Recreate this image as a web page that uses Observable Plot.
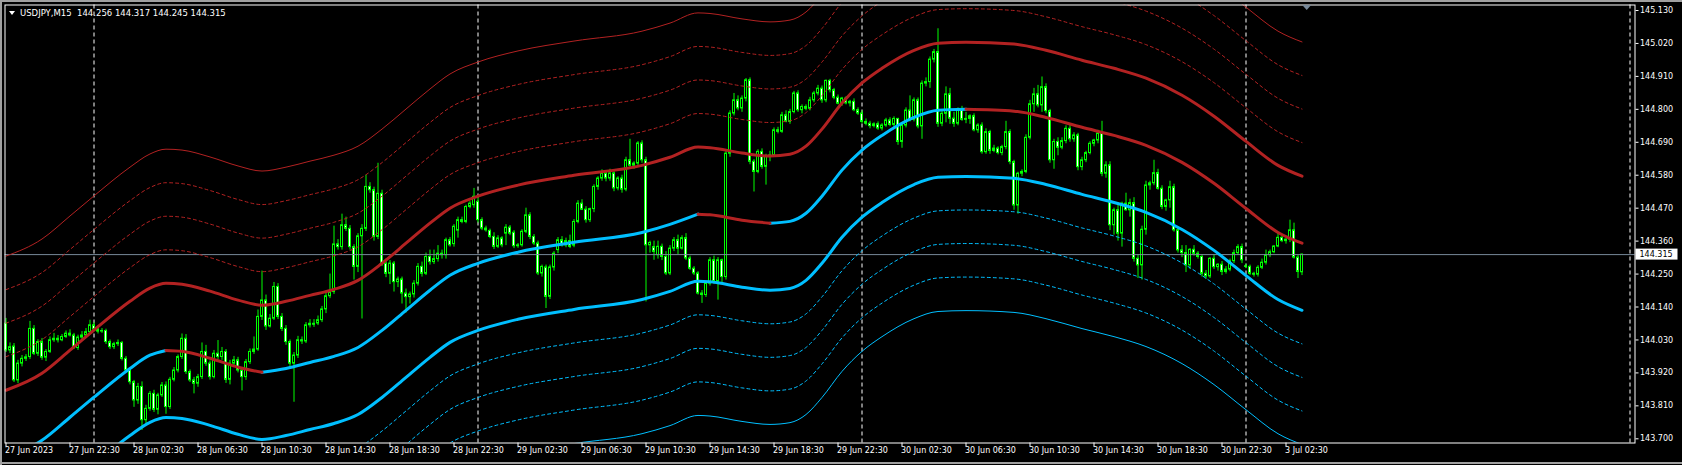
<!DOCTYPE html>
<html>
<head>
<meta charset="utf-8">
<script src="https://cdn.jsdelivr.net/npm/d3@7"></script>
<script src="https://cdn.jsdelivr.net/npm/@observablehq/plot@0.6"></script>
<style>
  html, body { margin: 0; padding: 0; background: #000; }
  #wrap { position: relative; width: 1682px; height: 465px; overflow: hidden; background: #000; }
  #wrap svg { display: block; }
  .bd { position: absolute; background: #a0a0a0; }
</style>
</head>
<body>
<div id="wrap">
  <div id="chart"></div>
  <div class="bd" style="left:0;top:0;width:1682px;height:2px;"></div>
  <div class="bd" style="left:0;top:0;width:2px;height:465px;"></div>
  <div class="bd" style="left:0;top:462px;width:1682px;height:2px;"></div>
</div>
<script>
// ---------------- data ----------------
const symbol = "USDJPY,M15";

// OHLC of the 325 visible M15 bars (27 Jun 18:30 -> 3 Jul 03:30)
const open = [
144.084,143.995,144.008,143.895,143.951,143.967,143.973,144.067,143.984,144.023,
143.971,143.990,144.029,144.034,144.029,144.040,144.051,144.045,144.003,144.038,
144.045,144.056,144.079,144.065,144.058,144.060,144.023,144.006,144.016,144.020,
143.967,143.928,143.889,143.828,143.873,143.762,143.800,143.850,143.797,143.845,
143.878,143.806,143.897,143.928,143.973,144.034,143.923,143.895,143.884,143.906,
143.990,143.951,143.906,143.984,143.973,143.990,143.897,143.951,143.962,143.928,
143.906,143.956,143.990,143.998,144.107,144.162,144.075,144.101,144.207,144.107,
144.067,144.023,143.951,143.978,144.029,144.025,144.079,144.084,144.085,144.096,
144.132,144.176,144.190,144.349,144.340,144.413,144.401,144.340,144.274,144.376,
144.401,144.541,144.530,144.374,144.518,144.285,144.251,144.285,144.223,144.232,
144.185,144.173,144.182,144.218,144.274,144.251,144.307,144.290,144.300,144.318,
144.313,144.363,144.350,144.395,144.430,144.424,144.474,144.480,144.491,144.430,
144.402,144.394,144.374,144.341,144.369,144.385,144.405,144.388,144.343,144.346,
144.391,144.446,144.374,144.352,144.252,144.272,144.174,144.272,144.330,144.363,
144.346,144.360,144.345,144.424,144.485,144.465,144.430,144.467,144.541,144.569,
144.586,144.569,144.586,144.536,144.569,144.532,144.630,144.612,144.619,144.686,
144.630,144.346,144.340,144.313,144.341,144.307,144.252,144.335,144.363,144.335,
144.370,144.302,144.268,144.252,144.185,144.180,144.218,144.296,144.225,144.296,
144.240,144.652,144.786,144.830,144.803,144.836,144.897,144.625,144.591,144.658,
144.608,144.641,144.646,144.730,144.725,144.780,144.758,144.791,144.853,144.797,
144.808,144.802,144.830,144.853,144.869,144.830,144.895,144.864,144.839,144.819,
144.836,144.820,144.825,144.797,144.786,144.758,144.752,144.744,144.750,144.736,
144.746,144.763,144.748,144.768,144.691,144.746,144.796,144.765,144.830,144.743,
144.886,144.891,144.966,144.991,144.752,144.785,144.850,144.769,144.752,144.797,
144.765,144.768,144.777,144.730,144.746,144.657,144.724,144.661,144.669,144.654,
144.674,144.724,144.624,144.479,144.585,144.591,144.705,144.817,144.850,144.813,
144.874,144.794,144.630,144.691,144.672,144.694,144.735,144.700,144.713,144.607,
144.630,144.654,144.685,144.696,144.719,144.585,144.613,144.413,144.463,144.385,
144.485,144.463,144.487,144.301,144.279,144.398,144.546,144.553,144.587,144.535,
144.474,144.496,144.540,144.396,144.329,144.320,144.279,144.331,144.318,144.307,
144.251,144.242,144.301,144.273,144.281,144.257,144.265,144.293,144.320,144.340,
144.276,144.274,144.251,144.248,144.271,144.288,144.313,144.323,144.342,144.371,
144.360,144.365,144.396,144.305,144.256];
const high = [
144.102,144.020,144.018,143.962,143.978,143.981,144.092,144.078,144.031,144.035,
143.998,144.040,144.052,144.045,144.048,144.060,144.064,144.052,144.046,144.058,
144.068,144.096,144.088,144.072,144.068,144.066,144.030,144.022,144.030,144.025,
143.975,143.935,143.895,143.885,143.890,143.812,143.858,143.862,143.852,143.888,
143.890,143.905,143.938,143.980,144.050,144.048,143.930,143.905,143.915,144.020,
144.012,143.960,143.995,144.028,144.005,143.998,143.962,143.975,143.972,143.938,
143.965,144.000,144.040,144.130,144.260,144.180,144.115,144.222,144.218,144.118,
144.078,144.030,143.988,144.042,144.040,144.088,144.098,144.098,144.110,144.142,
144.185,144.250,144.410,144.365,144.450,144.440,144.412,144.348,144.385,144.415,
144.580,144.555,144.540,144.620,144.530,144.300,144.295,144.292,144.240,144.240,
144.200,144.190,144.228,144.285,144.290,144.320,144.330,144.330,144.345,144.330,
144.370,144.372,144.415,144.440,144.440,144.480,144.492,144.536,144.512,144.438,
144.410,144.400,144.388,144.378,144.375,144.415,144.412,144.395,144.352,144.398,
144.470,144.455,144.382,144.360,144.280,144.280,144.280,144.325,144.372,144.375,
144.370,144.380,144.432,144.495,144.498,144.475,144.470,144.548,144.575,144.598,
144.595,144.600,144.592,144.575,144.580,144.640,144.700,144.625,144.692,144.695,
144.640,144.360,144.360,144.360,144.350,144.325,144.345,144.372,144.380,144.378,
144.385,144.310,144.275,144.258,144.195,144.225,144.305,144.310,144.305,144.300,
144.665,144.795,144.853,144.845,144.845,144.903,144.905,144.632,144.665,144.668,
144.650,144.660,144.738,144.740,144.790,144.795,144.800,144.860,144.862,144.815,
144.815,144.840,144.860,144.880,144.878,144.898,144.900,144.870,144.848,144.840,
144.842,144.830,144.835,144.805,144.795,144.768,144.760,144.755,144.758,144.752,
144.770,144.772,144.775,144.770,144.752,144.805,144.845,144.838,144.838,144.895,
144.905,144.975,145.000,145.069,144.795,144.875,144.870,144.790,144.805,144.810,
144.790,144.782,144.785,144.752,144.755,144.735,144.730,144.680,144.675,144.680,
144.760,144.732,144.630,144.590,144.598,144.715,144.830,144.870,144.880,144.908,
144.885,144.800,144.700,144.705,144.705,144.745,144.748,144.722,144.720,144.640,
144.660,144.692,144.700,144.730,144.760,144.625,144.625,144.470,144.480,144.490,
144.520,144.500,144.505,144.315,144.410,144.560,144.560,144.630,144.600,144.545,
144.500,144.560,144.550,144.405,144.345,144.345,144.335,144.345,144.325,144.315,
144.262,144.305,144.315,144.285,144.292,144.275,144.300,144.330,144.348,144.350,
144.283,144.280,144.256,144.278,144.300,144.330,144.330,144.345,144.385,144.382,
144.368,144.430,144.420,144.312,144.317];
const low = [
143.988,143.985,143.888,143.884,143.940,143.958,143.965,143.978,143.975,143.962,
143.958,143.985,144.022,144.020,144.024,144.035,144.040,143.998,143.995,144.030,
144.038,144.050,144.058,144.050,144.052,144.015,143.998,143.998,144.008,143.960,
143.918,143.880,143.805,143.815,143.728,143.750,143.792,143.788,143.780,143.838,
143.782,143.798,143.890,143.920,143.965,143.915,143.888,143.850,143.872,143.898,
143.942,143.896,143.900,143.965,143.962,143.885,143.880,143.944,143.920,143.860,
143.895,143.948,143.982,143.992,144.095,144.062,144.070,144.095,144.098,144.058,
144.012,143.940,143.822,143.968,144.015,144.018,144.070,144.072,144.078,144.088,
144.118,144.168,144.182,144.330,144.330,144.392,144.330,144.230,144.255,144.100,
144.392,144.520,144.360,144.365,144.275,144.238,144.215,144.190,144.205,144.150,
144.120,144.150,144.170,144.210,144.240,144.245,144.280,144.282,144.290,144.300,
144.300,144.340,144.340,144.370,144.418,144.418,144.468,144.470,144.420,144.395,
144.390,144.368,144.332,144.335,144.338,144.345,144.378,144.335,144.336,144.340,
144.385,144.365,144.345,144.245,144.240,144.135,144.165,144.260,144.318,144.340,
144.338,144.335,144.338,144.418,144.462,144.420,144.422,144.455,144.530,144.560,
144.558,144.560,144.525,144.528,144.520,144.525,144.605,144.600,144.610,144.620,
144.157,144.320,144.296,144.300,144.295,144.245,144.245,144.325,144.315,144.330,
144.295,144.262,144.245,144.180,144.152,144.172,144.210,144.215,144.163,144.215,
144.230,144.640,144.778,144.795,144.790,144.825,144.615,144.524,144.585,144.600,
144.547,144.625,144.640,144.718,144.720,144.755,144.750,144.785,144.790,144.785,
144.795,144.795,144.822,144.845,144.820,144.822,144.855,144.832,144.815,144.810,
144.815,144.808,144.792,144.780,144.752,144.745,144.735,144.738,144.730,144.728,
144.740,144.742,144.740,144.680,144.670,144.738,144.758,144.758,144.735,144.700,
144.875,144.870,144.955,144.740,144.742,144.755,144.750,144.740,144.745,144.760,
144.752,144.750,144.725,144.720,144.650,144.650,144.650,144.655,144.648,144.645,
144.665,144.615,144.463,144.450,144.575,144.585,144.698,144.790,144.805,144.790,
144.785,144.620,144.600,144.645,144.665,144.685,144.690,144.690,144.595,144.595,
144.622,144.648,144.675,144.685,144.575,144.570,144.395,144.380,144.360,144.340,
144.460,144.440,144.290,144.235,144.230,144.380,144.530,144.545,144.530,144.465,
144.460,144.470,144.390,144.320,144.305,144.255,144.265,144.310,144.300,144.240,
144.232,144.235,144.265,144.260,144.245,144.250,144.258,144.285,144.312,144.285,
144.268,144.245,144.240,144.240,144.265,144.280,144.305,144.318,144.338,144.355,
144.350,144.355,144.300,144.235,144.245];
const close = [
143.995,144.006,143.895,143.951,143.967,143.972,144.067,143.984,144.023,143.971,
143.990,144.029,144.034,144.029,144.040,144.051,144.045,144.006,144.038,144.045,
144.056,144.079,144.065,144.058,144.060,144.023,144.006,144.016,144.020,143.967,
143.928,143.889,143.828,143.873,143.762,143.800,143.850,143.797,143.845,143.878,
143.806,143.897,143.928,143.973,144.034,143.923,143.895,143.884,143.906,143.990,
143.951,143.906,143.984,143.973,143.990,143.897,143.951,143.962,143.928,143.906,
143.956,143.990,143.998,144.107,144.162,144.075,144.101,144.207,144.107,144.067,
144.023,143.951,143.978,144.029,144.025,144.079,144.084,144.081,144.096,144.132,
144.176,144.190,144.349,144.340,144.413,144.401,144.340,144.274,144.376,144.401,
144.541,144.530,144.374,144.518,144.285,144.251,144.285,144.223,144.232,144.185,
144.173,144.182,144.218,144.274,144.251,144.307,144.290,144.300,144.318,144.313,
144.363,144.346,144.408,144.430,144.424,144.474,144.485,144.508,144.430,144.402,
144.396,144.374,144.341,144.369,144.346,144.405,144.385,144.343,144.346,144.391,
144.446,144.374,144.352,144.252,144.274,144.174,144.272,144.318,144.363,144.346,
144.360,144.341,144.424,144.485,144.465,144.430,144.467,144.541,144.569,144.586,
144.569,144.586,144.536,144.569,144.532,144.630,144.612,144.619,144.686,144.630,
144.346,144.354,144.324,144.341,144.307,144.252,144.335,144.363,144.335,144.370,
144.302,144.268,144.252,144.185,144.180,144.218,144.296,144.225,144.296,144.240,
144.652,144.786,144.830,144.803,144.836,144.897,144.625,144.591,144.658,144.608,
144.641,144.646,144.730,144.725,144.780,144.758,144.791,144.853,144.797,144.808,
144.802,144.830,144.853,144.869,144.830,144.895,144.864,144.839,144.819,144.836,
144.820,144.825,144.797,144.786,144.758,144.752,144.744,144.750,144.736,144.746,
144.763,144.748,144.768,144.691,144.746,144.796,144.765,144.830,144.743,144.886,
144.891,144.966,144.991,144.752,144.785,144.850,144.769,144.752,144.797,144.765,
144.768,144.777,144.730,144.746,144.657,144.724,144.661,144.669,144.654,144.674,
144.724,144.624,144.479,144.585,144.591,144.705,144.817,144.850,144.813,144.874,
144.794,144.630,144.691,144.672,144.694,144.735,144.700,144.713,144.607,144.630,
144.654,144.685,144.696,144.719,144.585,144.613,144.413,144.463,144.385,144.485,
144.463,144.487,144.301,144.279,144.398,144.546,144.553,144.587,144.535,144.474,
144.496,144.540,144.396,144.329,144.320,144.279,144.331,144.318,144.307,144.251,
144.242,144.301,144.273,144.281,144.257,144.265,144.293,144.320,144.340,144.296,
144.274,144.251,144.248,144.271,144.288,144.313,144.323,144.342,144.371,144.360,
144.365,144.396,144.305,144.257,144.315];

// centre line of the band indicator, read at these bar numbers
const midBars = [0,9,16,22,31,36,40,44,51,58,64,70,76,82,88,94,100,106,111,118,128,142,159,166,173,176,184,191,196,200,204,209,214,219,227,233,240,252,260,269,277,285,294,302,310,318,324];
const midValues = [143.638,143.695,143.772,143.839,143.935,143.979,143.995,143.992,143.969,143.939,143.922,143.935,143.955,143.975,144.005,144.062,144.129,144.196,144.246,144.286,144.323,144.356,144.389,144.416,144.450,144.448,144.430,144.420,144.426,144.453,144.510,144.597,144.664,144.713,144.773,144.797,144.800,144.794,144.773,144.740,144.713,144.680,144.623,144.553,144.469,144.389,144.353];
// distance between neighbouring band lines (price units)
const bandStep = 0.112;

const yTicks = [143.700,143.810,143.920,144.030,144.140,144.250,144.360,144.470,144.580,144.690,144.800,144.910,145.020,145.130];
const xTickBars = [0,16,32,48,64,80,96,112,128,144,160,176,192,208,224,240,256,272,288,304,320];
const xTickLabels = ["27 Jun 2023","27 Jun 22:30","28 Jun 02:30","28 Jun 06:30","28 Jun 10:30","28 Jun 14:30","28 Jun 18:30","28 Jun 22:30","29 Jun 02:30","29 Jun 06:30","29 Jun 10:30","29 Jun 14:30","29 Jun 18:30","29 Jun 22:30","30 Jun 02:30","30 Jun 06:30","30 Jun 10:30","30 Jun 14:30","30 Jun 18:30","30 Jun 22:30","3 Jul 02:30"];
// day separators (midnight bars), including the next one in the shift area
const separatorBars = [22,118,214,310,406];

// ---------------- drawing ----------------
const W = 1682, H = 465;
const mL = 4.5, mR = 47.5, mT = 4.5, mB = 22.5;
const RED = "#b22222", BLUE = "#00bfff", LIME = "#00ff00", BIDC = "#778899";
const n = Math.min(open.length, high.length, low.length, close.length);
const bars = d3.range(n).map(i => ({i, o: open[i], h: high[i], l: low[i], c: close[i]}));
const last = bars[n - 1];

const mid = midBars.map((b, j) => ({bar: b, v: midValues[j]}));
// split the centre line into rising (blue) and falling (red) runs
const runs = [];
{
  let cur = [mid[0]], dir = null;
  for (let j = 1; j < mid.length; j++) {
    const d = mid[j].v > mid[j - 1].v ? "up" : "down";
    if (dir && d !== dir) { runs.push({dir, pts: cur}); cur = [mid[j - 1]]; }
    dir = d; cur.push(mid[j]);
  }
  runs.push({dir, pts: cur});
}
const midUp = runs.flatMap((r, k) => r.dir === "up" ? r.pts.map(p => ({...p, run: k})) : []);
const midDown = runs.flatMap((r, k) => r.dir === "down" ? r.pts.map(p => ({...p, run: k})) : []);

const bandLines = [6, 5, 4, 3, 2, -2, -3, -4, -5, -6].map(k => {
  const a = Math.abs(k);
  const opts = {
    x: "bar", y: p => p.v + k * bandStep,
    stroke: k > 0 ? RED : BLUE,
    strokeWidth: a === 2 ? 3 : 1,
    curve: "monotone-x", clip: true
  };
  if (a >= 3 && a <= 5) opts.strokeDasharray = "3,3";
  return Plot.line(mid, opts);
});

const chart = Plot.plot({
  width: W, height: H,
  marginLeft: mL, marginRight: mR, marginTop: mT, marginBottom: mB,
  style: {background: "#000", color: "#fff", fontFamily: "'DejaVu Sans', sans-serif", fontSize: "8px"},
  x: {domain: [0, 324], range: [5.5, 1301.5], axis: "bottom", ticks: xTickBars, tickFormat: () => "", tickSize: 4, label: null},
  y: {domain: [143.700, 145.130], range: [438.3, 10], axis: "right", ticks: yTicks, tickFormat: d3.format(".3f"), tickSize: 3, tickPadding: 2, label: null},
  marks: [
    Plot.ruleX(separatorBars, {x: d => d, stroke: "#fff", strokeDasharray: "4,3"}),
    Plot.ruleX(bars, {x: "i", y1: "l", y2: "h", stroke: LIME}),
    Plot.rect(bars.filter(d => d.c >= d.o), {x1: d => d.i - 0.25, x2: d => d.i + 0.25, y1: "o", y2: "c", fill: "#000", stroke: LIME}),
    Plot.rect(bars.filter(d => d.c < d.o), {x1: d => d.i - 0.25, x2: d => d.i + 0.25, y1: "o", y2: "c", fill: "#fff", stroke: LIME}),
    Plot.ruleY([last.c], {stroke: BIDC}),
    ...bandLines,
    Plot.line(midUp, {x: "bar", y: "v", z: "run", stroke: BLUE, strokeWidth: 3, curve: "monotone-x", clip: true}),
    Plot.line(midDown, {x: "bar", y: "v", z: "run", stroke: RED, strokeWidth: 3, curve: "monotone-x", clip: true}),
    Plot.text(xTickBars, {x: d => d, text: (d, i) => xTickLabels[i], frameAnchor: "bottom", textAnchor: "start", dy: 10, dx: -1, fill: "#fff"}),
    Plot.frame({stroke: "#fff"})
  ]
});
document.getElementById("chart").appendChild(chart);

// clip the band lines to the frame (fallback for versions without mark clipping)
const svg = d3.select(chart);
svg.insert("defs", ":first-child").append("clipPath").attr("id", "frameClip")
  .append("rect").attr("x", mL).attr("y", mT).attr("width", W - mL - mR).attr("height", H - mT - mB);
svg.selectAll('g[aria-label="line"]').each(function () {
  if (!this.getAttribute("clip-path")) this.setAttribute("clip-path", "url(#frameClip)");
});

const xs = chart.scale("x"), ys = chart.scale("y");
// title line
svg.append("path").attr("d", "M9,11L15,11L12,15Z").attr("fill", "#fff");
svg.append("text").attr("x", 20).attr("y", 16).attr("fill", "#fff").attr("text-anchor", "start")
  .style("font-size", "8.5px").style("white-space", "pre")
  .text(`${symbol}  ${last.o.toFixed(3)} ${last.h.toFixed(3)} ${last.l.toFixed(3)} ${last.c.toFixed(3)}`);
// current price label on the axis
const yc = ys.apply(last.c);
svg.append("rect").attr("x", W - mR + 1).attr("y", yc - 5.5).attr("width", 42).attr("height", 11).attr("fill", "#fff");
svg.append("text").attr("x", W - mR + 5).attr("y", yc + 3).attr("fill", "#000").attr("text-anchor", "start").text(last.c.toFixed(3));
// chart-shift marker
const xsft = xs.apply(n - 1) + 5.2;
svg.append("path").attr("d", `M${xsft - 4.5},${mT + 0.5}L${xsft + 4.5},${mT + 0.5}L${xsft},${mT + 5.5}Z`).attr("fill", BIDC);
</script>
</body>
</html>
